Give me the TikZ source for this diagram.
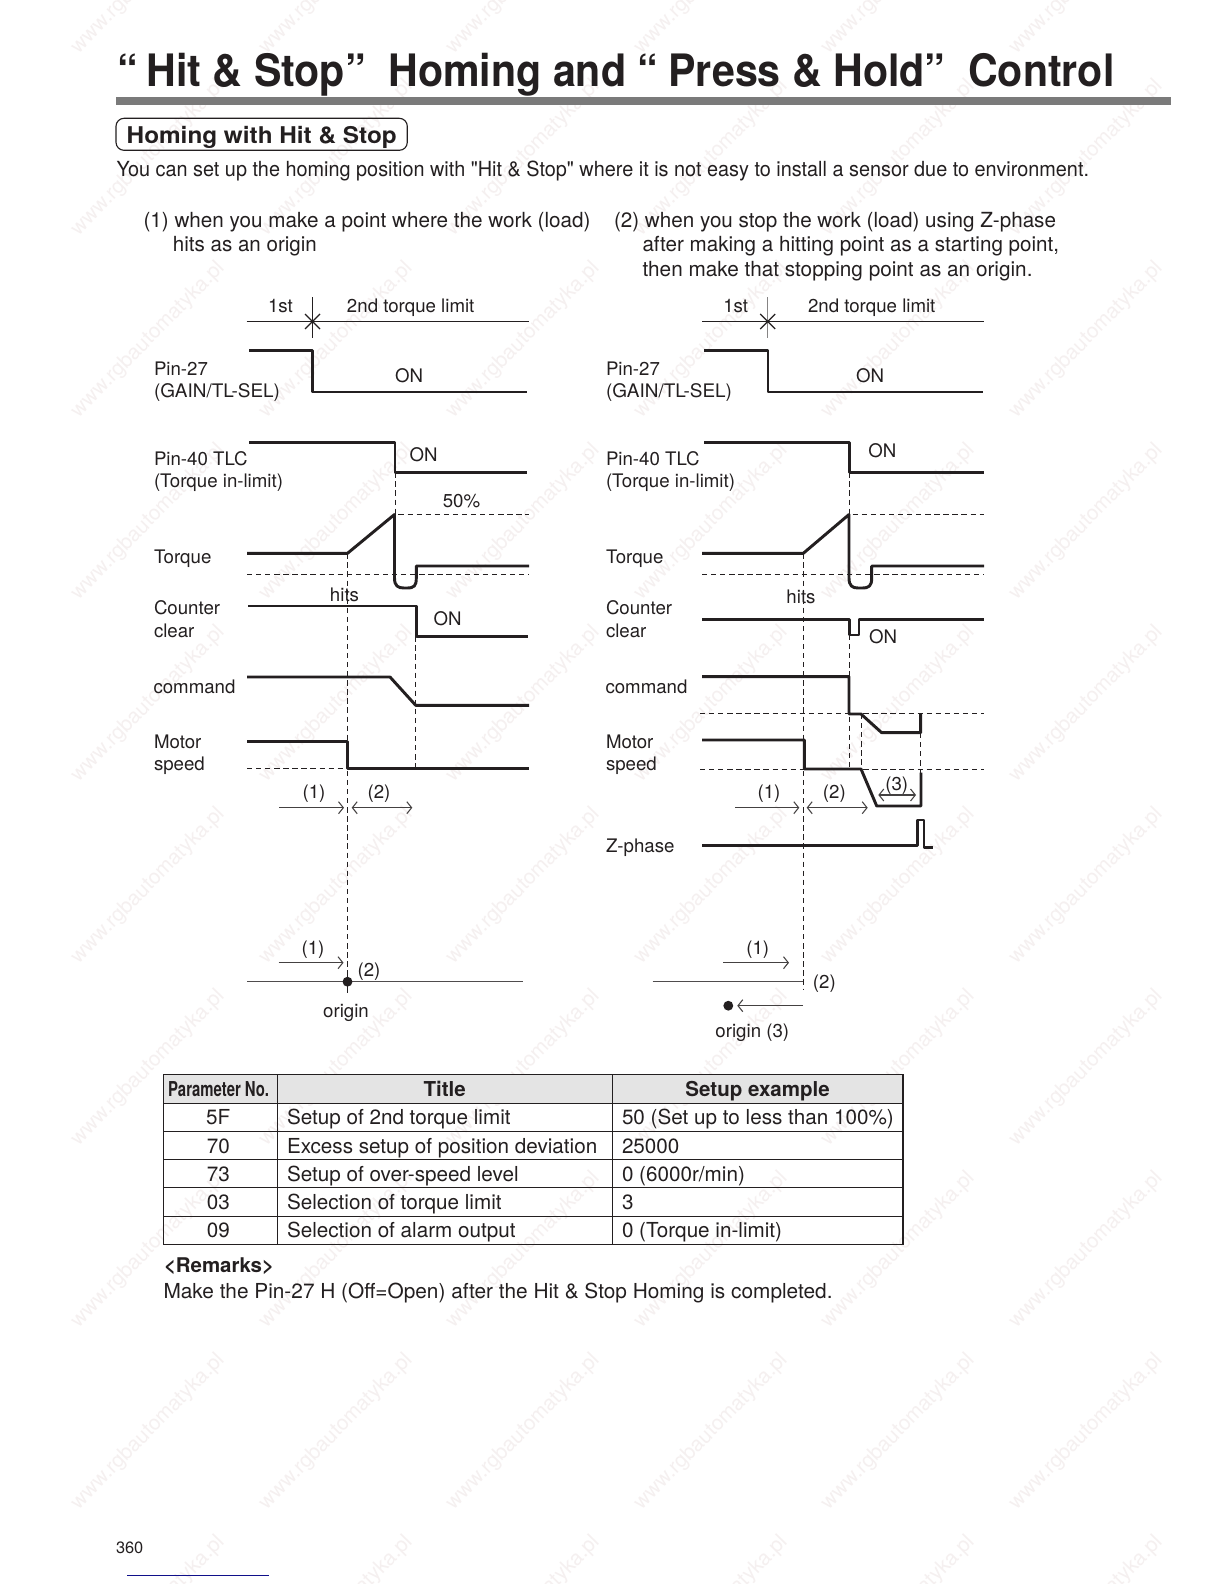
\documentclass[tikz,border=0pt]{standalone}
\usepackage{fontspec}
\setmainfont{TeX Gyre Heros}
\newfontfamily\plainq{TeX Gyre Heros}
\usetikzlibrary{arrows.meta}
\definecolor{ink}{HTML}{231F20}
\definecolor{barfill}{HTML}{7A7A7A}
\definecolor{headfill}{HTML}{E4E4E4}
\definecolor{wmark}{HTML}{F5F0F0}
\definecolor{pagerule}{HTML}{10108A}
\newcommand{\fitw}[2]{\resizebox{0.75\dimexpr #1pt\relax}{\height}{#2}}
\tikzset{
  txt/.style={inner sep=0pt,outer sep=0pt,text=ink,yshift=-0.75pt,font=\fontsize{14}{16}\selectfont},
  lbl/.style={txt,anchor=base west},
  cen/.style={txt,anchor=base},
  para/.style={lbl,font=\fontsize{15.6}{18}\selectfont},
  cell/.style={lbl,font=\fontsize{15.5}{18}\selectfont},
  cellc/.style={cen,font=\fontsize{15.5}{18}\selectfont},
  cellh/.style={cen,font=\fontsize{15.4}{18}\selectfont\bfseries},
  wave/.style={draw=ink,line width=2.2pt,line join=round},
  thinl/.style={draw=ink,line width=0.85pt},
  dashln/.style={draw=ink,line width=0.75pt,dash pattern=on 4pt off 2.8pt},
  arr/.style={draw=ink!85,line width=0.8pt,-{Straight Barb[length=3.6pt,width=9pt]}},
  darr/.style={draw=ink!85,line width=0.8pt,{Straight Barb[length=3.6pt,width=9pt]}-{Straight Barb[length=3.6pt,width=9pt]}},
  wm/.style={inner sep=0pt,text=wmark,rotate=45.5,font=\fontsize{15.6}{18}\selectfont},
  tline/.style={draw=ink,line width=0.95pt}
}
\begin{document}
\begin{tikzpicture}[x=0.75pt,y=-0.75pt]
\useasboundingbox (0,0) rectangle (1224,1584);
\fill[white] (0,0) rectangle (1224,1584);
% watermark
\foreach \cx in {148,336,523,711,898,1086}
  \foreach \cy in {-24,158,340,522,704,886,1068,1250,1432,1614}
    \node[wm] (wm\cx x\cy) at (\cx,\cy) {www.rgbautomatyka.pl};
% header
\node[lbl,font=\fontsize{33.5}{36}\selectfont\bfseries] (title) at (117.5,86) {\fitw{997}{“\kern-0.07em\ Hit \& Stop”\ \ Homing and “\kern-0.03em\ Press \& Hold”\ \ Control}};
\fill[barfill] (116,97.3) rectangle (1171,104.7);
\node[lbl,font=\fontsize{17.3}{20}\selectfont\bfseries] (sect) at (126.7,142.7) {\fitw{270}{Homing with Hit \& Stop}};
\draw[thinl,rounded corners=6pt] (116,118.3) rectangle (407.3,150.3);
\node[para] (intro) at (116.5,176) {\fitw{972.5}{You can set up the homing position with {\plainq"}Hit \& Stop{\plainq"} where it is not easy to install a sensor due to environment.}};
\node[para] (p1a) at (143.5,226.7) {\fitw{447}{(1) when you make a point where the work (load)}};
\node[para] (p1b) at (172.9,250.7) {\fitw{144}{hits as an origin}};
\node[para] (p2a) at (614,226.7) {\fitw{442}{(2) when you stop the work (load) using Z-phase}};
\node[para] (p2b) at (642.5,250.7) {\fitw{416.6}{after making a hitting point as a starting point,}};
\node[para] (p2c) at (642.5,275) {\fitw{390}{then make that stopping point as an origin.}};

% ---------- left diagram ----------
\draw[thinl] (246.7,321.5) -- (529,321.5);
\draw[thinl] (312.4,297) -- (312.4,338);
\draw[thinl] (305,314) -- (320,329) (305,329) -- (320,314);
\node[cen] (a1st) at (280.5,311) {1st};
\node[cen] (a2nd) at (410.7,311) {2nd torque limit};
\node[lbl] (aP27) at (154,374.7) {Pin-27};
\node[lbl] (aGain) at (154,396.7) {\fitw{126}{(GAIN/TL-SEL)}};
\node[cen] (aOn1) at (409,381.7) {ON};
\draw[wave] (249,350.4) -- (312.8,350.4) -- (312.8,392) -- (526.7,392);
\node[lbl] (aP40) at (154,464) {Pin-40 TLC};
\node[lbl] (aTil) at (154,486) {(Torque in-limit)};
\node[cen] (aOn2) at (423.5,460) {ON};
\draw[wave] (249,442.7) -- (395,442.7) -- (395,472.3) -- (527,472.3);
\draw[dashln] (395.3,472.3) -- (395.3,514.5) -- (529,514.5);
\node[cen] (a50) at (461.5,506.7) {50\%};
\node[lbl] (aTq) at (154,562) {Torque};
\draw[wave] (247,553.3) -- (347.5,553.3) -- (394.5,514.5) -- (394.5,578) .. controls (394.5,586) and (398,588) .. (404,588) -- (407,588) .. controls (414,588) and (416.3,586) .. (416.3,578) -- (416.3,566) -- (529,566);
\draw[dashln] (247,574.3) -- (529,574.3);
\node[cen] (aHits) at (344.5,600) {hits};
\draw[dashln] (347.5,553.3) -- (347.5,970);
\draw[thinl] (347.5,970) -- (347.5,993);
\node[lbl] (aCnt) at (154,613) {Counter};
\node[lbl] (aClr) at (154,636) {clear};
\node[cen] (aOn3) at (447.5,624) {ON};
\draw[wave] (248,606) -- (416.3,606) -- (416.3,636.3) -- (528,636.3);
\draw[dashln] (415.7,636.3) -- (415.7,768);
\node[lbl] (aCmd) at (153.5,692.7) {command};
\draw[wave] (247,677) -- (390,677) -- (415.7,705.3) -- (529,705.3);
\node[lbl] (aMot) at (154,747) {Motor};
\node[lbl] (aSpd) at (154,769.7) {speed};
\draw[dashln] (247,768.7) -- (347,768.7);
\draw[wave] (247,741.3) -- (347.7,741.3) -- (347.7,768.7) -- (529,768.7);
\draw[arr] (279,807.7) -- (344,807.7);
\draw[darr] (351.7,807.7) -- (412.3,807.7);
\node[cen] (aL1) at (314,797.7) {(1)};
\node[cen] (aL2) at (379,797.7) {(2)};
\draw[arr] (278.5,962.7) -- (343.5,962.7);
\node[cen] (aL3) at (313,953.5) {(1)};
\node[cen] (aL4) at (369,975) {(2)};
\draw[thinl,draw=ink!80] (247,981.7) -- (523,981.7);
\fill[ink] (347.5,981.7) circle (3.7pt);
\node[cen] (aOrg) at (346,1016.7) {origin};

% ---------- right diagram ----------
\draw[thinl] (702,321.5) -- (984.3,321.5);
\draw[thinl,draw=ink!55] (767.7,297) -- (767.7,338);
\draw[thinl] (760.2,314) -- (775.2,329) (760.2,329) -- (775.2,314);
\node[cen] (b1st) at (735.7,311) {1st};
\node[cen] (b2nd) at (871.7,311) {2nd torque limit};
\node[lbl] (bP27) at (606,374.7) {Pin-27};
\node[lbl] (bGain) at (606,396.7) {\fitw{126}{(GAIN/TL-SEL)}};
\node[cen] (bOn1) at (870,381.7) {ON};
\draw[wave] (704,350.4) -- (768,350.4) -- (768,392) -- (982.7,392);
\node[lbl] (bP40) at (606,464) {Pin-40 TLC};
\node[lbl] (bTil) at (606,486) {(Torque in-limit)};
\node[cen] (bOn2) at (882.3,456.7) {ON};
\draw[wave] (704,442.7) -- (849.7,442.7) -- (849.7,472.3) -- (984,472.3);
\draw[dashln] (849.5,472.3) -- (849.5,514.5) -- (984,514.5);
\node[lbl] (bTq) at (606,562) {Torque};
\draw[wave] (702,553.3) -- (803.3,553.3) -- (849,514.5) -- (849,578) .. controls (849,586) and (852.5,588) .. (858,588) -- (862,588) .. controls (869,588) and (871.7,586) .. (871.7,578) -- (871.7,566) -- (984,566);
\draw[dashln] (702,574.3) -- (984,574.3);
\node[cen] (bHits) at (801,602.7) {hits};
\draw[dashln] (803.3,553.3) -- (803.3,989);
\node[lbl] (bCnt) at (606,613) {Counter};
\node[lbl] (bClr) at (606,636) {clear};
\node[cen] (bOn3) at (883,642.3) {ON};
\draw[wave] (702,619.7) -- (849.7,619.7) -- (849.7,635) -- (859,635) -- (859,619.7) -- (984,619.7);
\draw[dashln] (849.5,635) -- (849.5,769);
\node[lbl] (bCmd) at (605.5,692.7) {command};
\draw[wave] (702,676.7) -- (849,676.7) -- (849,714) -- (861,714) -- (881.7,732.7) -- (920.7,732.7) -- (920.7,713.3);
\draw[dashln] (700,713.3) -- (984,713.3);
\draw[dashln] (700,769) -- (984,769);
\draw[dashln] (861,714) -- (861,769);
\draw[dashln] (920.7,733) -- (920.7,773);
\node[lbl] (bMot) at (606,747) {Motor};
\node[lbl] (bSpd) at (606,769.7) {speed};
\draw[wave] (702,740) -- (804.3,740) -- (804.3,769) -- (861,769) -- (876.7,806) -- (921,806) -- (921,772.7);
\draw[arr] (735,807.7) -- (799.3,807.7);
\draw[darr] (806.7,807.7) -- (867.7,807.7);
\draw[darr] (878.3,795) -- (916,795);
\node[cen] (bL1) at (769,797.7) {(1)};
\node[cen] (bL2) at (834.3,797.7) {(2)};
\node[cen] (bL3) at (896.7,789) {(3)};
\node[lbl] (bZ) at (606,851.7) {Z-phase};
\draw[wave] (702,845.3) -- (917.3,845.3) -- (917.3,820) -- (924,820) -- (924,847.3) -- (933.3,847.3);
\draw[arr] (723.3,962.7) -- (789,962.7);
\node[cen] (bL4) at (757.7,953.5) {(1)};
\draw[thinl,draw=ink!80] (652.7,981.7) -- (803,981.7);
\node[cen] (bL5) at (824.3,987) {(2)};
\draw[arr] (803,1005.7) -- (737.3,1005.7);
\fill[ink] (728.3,1005.7) circle (3.7pt);
\node[cen] (bOrg) at (752.3,1036.7) {origin (3)};

% ---------- table ----------
\fill[headfill] (163.3,1074.3) rectangle (903,1103.3);
\draw[tline] (163.3,1074.3) rectangle (903,1244.3);
\draw[tline] (163.3,1103.3) -- (903,1103.3) (163.3,1131.3) -- (903,1131.3) (163.3,1159.3) -- (903,1159.3) (163.3,1187.3) -- (903,1187.3) (163.3,1216.3) -- (903,1216.3);
\draw[tline] (277.7,1074.3) -- (277.7,1244.3) (612.7,1074.3) -- (612.7,1244.3);
\node[cellh] (hA) at (218.6,1095) {\fitw{101}{Parameter No.}};
\node[cellh] (hB) at (444.7,1095) {Title};
\node[cellh] (hC) at (757.6,1095) {Setup example};
\node[cellc] (r1a) at (218.3,1123.3) {5F};
\node[cell] (r1b) at (287,1123.3) {Setup of 2nd torque limit};
\node[cell] (r1c) at (622,1123.3) {50 (Set up to less than 100\%)};
\node[cellc] (r2a) at (218.3,1152.7) {70};
\node[cell] (r2b) at (287,1152) {Excess setup of position deviation};
\node[cell] (r2c) at (622,1152) {25000};
\node[cellc] (r3a) at (218.3,1180.7) {73};
\node[cell] (r3b) at (287,1180) {Setup of over-speed level};
\node[cell] (r3c) at (622,1180) {0 (6000r/min)};
\node[cellc] (r4a) at (218.3,1208.7) {03};
\node[cell] (r4b) at (287,1208) {Selection of torque limit};
\node[cell] (r4c) at (622,1208) {3};
\node[cellc] (r5a) at (218.3,1236.7) {09};
\node[cell] (r5b) at (287,1236.7) {Selection of alarm output};
\node[cell] (r5c) at (622,1236.7) {0 (Torque in-limit)};
\node[cell,font=\fontsize{15.2}{18}\selectfont\bfseries] (rem) at (164,1271.7) {\fitw{110}{<Remarks>}};
\node[cell] (make) at (163.5,1297) {\fitw{669}{Make the Pin-27 H (Off=Open) after the Hit \& Stop Homing is completed.}};
% footer
\node[lbl,font=\fontsize{12.3}{14}\selectfont] (page) at (116,1552.7) {360};
\draw[draw=pagerule,line width=0.8pt] (127,1575.3) -- (269,1575.3);
\end{tikzpicture}
\end{document}
